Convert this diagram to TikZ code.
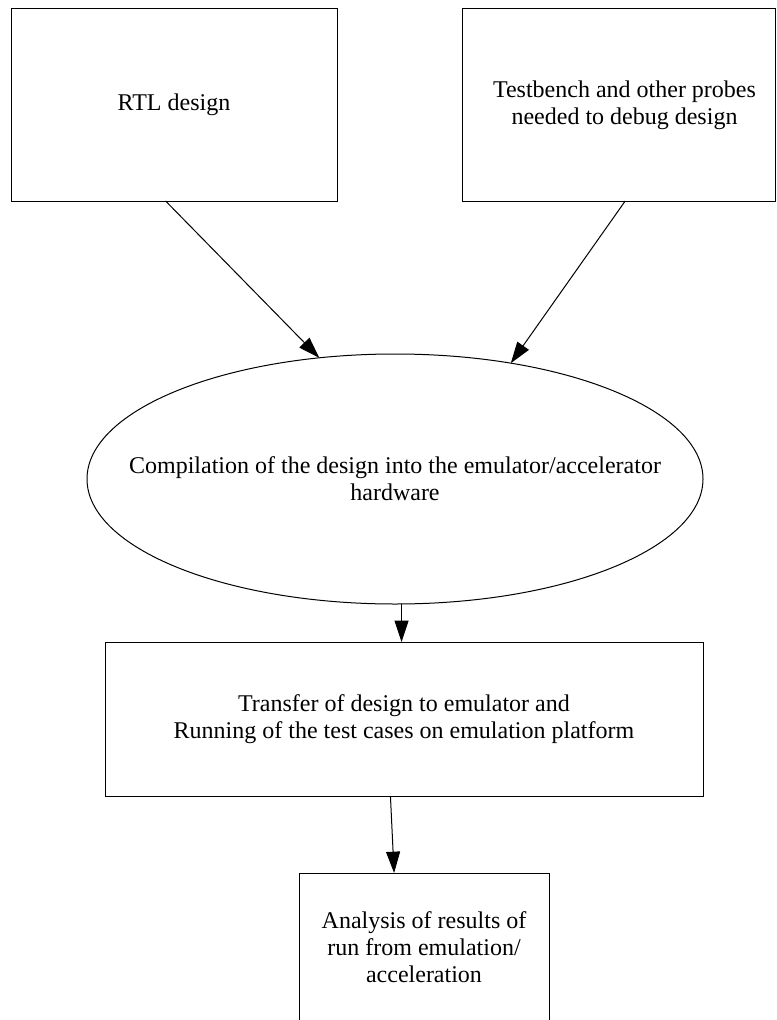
\documentclass[tikz,border=0pt]{standalone}
\usepackage{fontspec}
\setmainfont{Liberation Serif}
\usetikzlibrary{shapes.geometric, arrows.meta}
\tikzset{
    >={Triangle[length=16pt, width=10.5pt]},
    every node/.style={font=\fontsize{18}{20.25}\selectfont, align=center, inner sep=0pt, outer sep=0pt},
    block/.style={draw, rectangle, line width=0.75pt},
    stage/.style={draw, ellipse, line width=0.75pt},
}

\begin{document}
\begin{tikzpicture}[x=0.75pt, y=-0.75pt, line width=0.75pt]
                \useasboundingbox (0,0) rectangle (776,1020);

                \node[block, minimum width=244.5pt, minimum height=144pt] (rtl) at (174,105) {RTL design};
                \node[block, minimum width=234.75pt, minimum height=144pt] (tb) at (618.5,105) {\makebox[0pt]{\hspace{9pt}Testbench and other probes}\\\makebox[0pt]{\hspace{9pt}needed to debug design}};
                \node[stage, minimum width=462pt, minimum height=187.5pt] (comp) at (395,479) {\makebox[0pt]{Compilation of the design into the emulator/accelerator}\\\makebox[0pt]{hardware}};
                \node[block, minimum width=448.5pt, minimum height=115.5pt] (xfer) at (404,719) {Transfer of design to emulator and\\Running of the test cases on emulation platform};
                \node[block, minimum width=187.5pt, minimum height=111pt] (anal) at (424,947) {Analysis of results of\\run from emulation/\\acceleration};

                \path[->] (rtl.265)  edge (comp.122)
                      (tb.274)   edge (comp.45)
                      (comp.273) edge (comp.273 |- xfer.north)
                      (xfer.260) edge (anal.112)
                ;
            \end{tikzpicture}
\end{document}
